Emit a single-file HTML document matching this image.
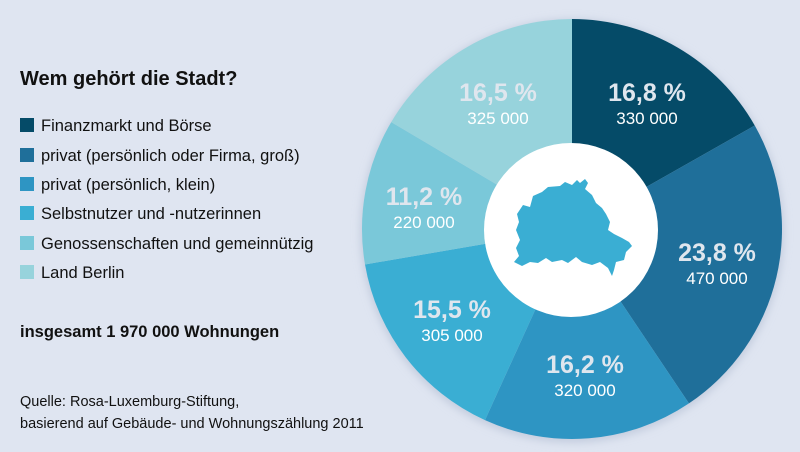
<!DOCTYPE html>
<html><head><meta charset="utf-8"><style>
body{margin:0;width:800px;height:452px;background:#dfe5f1;overflow:hidden;font-family:"Liberation Sans",sans-serif;}
</style></head><body>
<svg width="800" height="452" viewBox="0 0 800 452" xmlns="http://www.w3.org/2000/svg" style="position:absolute;left:0;top:0">
<defs><filter id="sh" x="-10%" y="-10%" width="120%" height="120%"><feGaussianBlur stdDeviation="4"/></filter></defs>
<circle cx="572" cy="231" r="212" fill="#c5cedf" filter="url(#sh)"/>
<g id="pie"></g>
<circle cx="571" cy="230" r="87" fill="#ffffff"/>
<path fill="#3aaed3" d="M517,214 L523,205 L530,207 L533,196 L542,192 L548,187 L560,186 L565,182 L572,185 L577,180 L580,183 L585,179 L588,183 L585,189 L592,195 L596,203 L602,208 L606,214 L610,222 L608,230 L614,234 L622,238 L629,242 L632,246 L626,252 L624,260 L616,262 L614,270 L612,276 L608,268 L600,262 L592,265 L582,262 L576,257 L568,263 L562,260 L552,262 L546,258 L538,263 L530,262 L522,266 L514,262 L519,256 L516,248 L520,240 L516,230 L519,222 Z"/>
<g fill="#dfe6ee" font-weight="bold" font-size="25" text-anchor="middle">
<text x="647" y="101">16,8 %</text>
<text x="717" y="261">23,8 %</text>
<text x="585" y="373">16,2 %</text>
<text x="452" y="318">15,5 %</text>
<text x="424" y="205">11,2 %</text>
<text x="498" y="101">16,5 %</text>
</g>
<g fill="#ffffff" font-size="17" text-anchor="middle">
<text x="647" y="124">330 000</text>
<text x="717" y="284">470 000</text>
<text x="585" y="396">320 000</text>
<text x="452" y="341">305 000</text>
<text x="424" y="228">220 000</text>
<text x="498" y="124">325 000</text>
</g>
<text x="20" y="85" font-size="20" font-weight="bold" fill="#111">Wem gehört die Stadt?</text>
<g font-size="16.5" fill="#111">
<rect x="20" y="118" width="14" height="14" fill="#054b68"/><text x="41" y="131">Finanzmarkt und Börse</text>
<rect x="20" y="148" width="14" height="14" fill="#1f6f9a"/><text x="41" y="161">privat (persönlich oder Firma, groß)</text>
<rect x="20" y="177" width="14" height="14" fill="#2e95c3"/><text x="41" y="190">privat (persönlich, klein)</text>
<rect x="20" y="206" width="14" height="14" fill="#3aaed3"/><text x="41" y="219">Selbstnutzer und -nutzerinnen</text>
<rect x="20" y="236" width="14" height="14" fill="#7ac8d9"/><text x="41" y="249">Genossenschaften und gemeinnützig</text>
<rect x="20" y="265" width="14" height="14" fill="#97d3dc"/><text x="41" y="278">Land Berlin</text>
</g>
<text x="20" y="337" font-size="16.5" font-weight="bold" fill="#111">insgesamt 1 970 000 Wohnungen</text>
<g font-size="14.5" fill="#111">
<text x="20" y="406">Quelle: Rosa-Luxemburg-Stiftung,</text>
<text x="20" y="428">basierend auf Gebäude- und Wohnungszählung 2011</text>
</g>
</svg>
<script>
var cx=572,cy=229,r=210,vals=[16.8,23.8,16.2,15.5,11.2,16.5],cols=["#054b68","#1f6f9a","#2e95c3","#3aaed3","#7ac8d9","#97d3dc"];
var g=document.getElementById("pie"),a=0,s="";
for(var i=0;i<6;i++){var b=a+vals[i]/100*2*Math.PI;
var x1=cx+r*Math.sin(a),y1=cy-r*Math.cos(a),x2=cx+r*Math.sin(b),y2=cy-r*Math.cos(b);
s+='<path fill="'+cols[i]+'" d="M'+cx+','+cy+' L'+x1+','+y1+' A'+r+','+r+' 0 '+((b-a)>Math.PI?1:0)+' 1 '+x2+','+y2+' Z"/>';a=b;}
g.innerHTML=s;
</script>
</body></html>
